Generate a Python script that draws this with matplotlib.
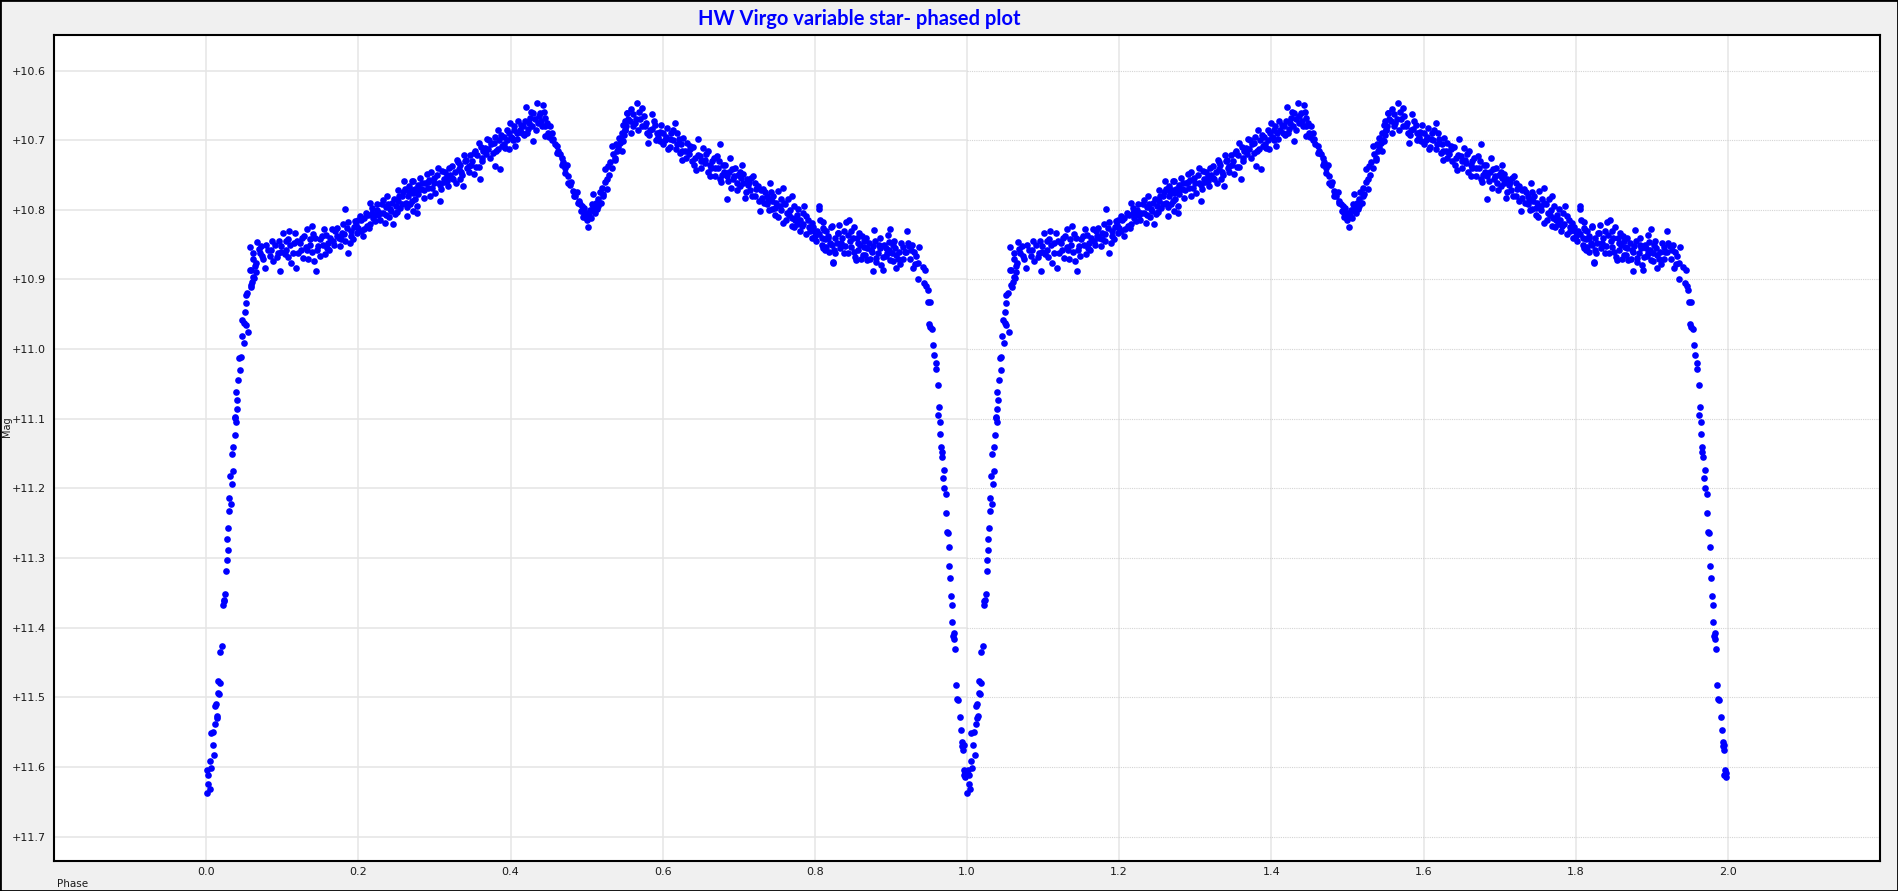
import matplotlib
matplotlib.use('Agg')
import matplotlib.pyplot as plt
import matplotlib.patches as patches
from matplotlib.ticker import FuncFormatter
import numpy as np

# one cycle of the phased light curve (phase, V mag)
# egress out of primary minimum
egress_phase = [0.0005, 0.0022, 0.0045, 0.001, 0.003, 0.006, 0.0049, 0.0101, 0.0084, 0.0058,
                0.0088, 0.0114, 0.0137, 0.0145, 0.012, 0.013, 0.016, 0.017, 0.016, 0.018,
                0.018, 0.021, 0.022, 0.024, 0.025, 0.023, 0.0259, 0.0268, 0.0281, 0.0276,
                0.029, 0.0299, 0.0325, 0.0302, 0.0342, 0.0316, 0.0355, 0.0334, 0.0355, 0.0373,
                0.039, 0.0381, 0.0377, 0.0399, 0.0408, 0.0395, 0.0421, 0.0443, 0.043, 0.0452,
                0.0491, 0.0465, 0.0552, 0.0518, 0.0495, 0.0473, 0.0505, 0.0518, 0.0518, 0.0539,
                0.0584, 0.0605, 0.0627, 0.065, 0.0584, 0.059, 0.0615, 0.057, 0.064, 0.066]
egress_mag = [11.637, 11.624, 11.632, 11.605, 11.611, 11.602, 11.591, 11.583, 11.568, 11.551,
              11.550, 11.538, 11.530, 11.527, 11.513, 11.510, 11.494, 11.495, 11.476, 11.479,
              11.435, 11.426, 11.368, 11.360, 11.352, 11.362, 11.319, 11.303, 11.288, 11.273,
              11.257, 11.233, 11.222, 11.214, 11.194, 11.182, 11.175, 11.150, 11.141, 11.124,
              11.105, 11.099, 11.098, 11.086, 11.073, 11.062, 11.044, 11.030, 11.013, 11.011,
              10.991, 10.981, 10.975, 10.965, 10.963, 10.958, 10.947, 10.934, 10.922, 10.920,
              10.908, 10.903, 10.898, 10.889, 10.886, 10.911, 10.897, 10.887, 10.881, 10.876]

# slowly brightening plateau after egress
plateau_phase = [0.057, 0.0615, 0.0668, 0.0725, 0.079, 0.0703, 0.0747, 0.077, 0.0835, 0.088,
                 0.0967, 0.0945, 0.099, 0.101, 0.109, 0.108, 0.1055, 0.112, 0.1187, 0.1165,
                 0.123, 0.1275, 0.132, 0.1385, 0.136, 0.134, 0.1415, 0.145, 0.147, 0.152,
                 0.156, 0.1604, 0.165, 0.1714, 0.176, 0.180, 0.183, 0.187, 0.189, 0.1956,
                 0.198, 0.202, 0.2066, 0.211, 0.2154, 0.2176, 0.222, 0.226, 0.2308, 0.235,
                 0.2374, 0.2418, 0.246, 0.250, 0.2527, 0.257, 0.260, 0.2637, 0.266, 0.268,
                 0.2725, 0.277, 0.279,
                 0.085, 0.091, 0.096, 0.103, 0.110, 0.114, 0.119, 0.125, 0.129, 0.131,
                 0.139, 0.143, 0.149, 0.154, 0.158, 0.162, 0.167, 0.169, 0.174, 0.178,
                 0.182, 0.185, 0.191, 0.193, 0.197, 0.200, 0.204, 0.208, 0.213, 0.215,
                 0.219, 0.224, 0.228, 0.233, 0.237, 0.240, 0.244, 0.248, 0.252, 0.255,
                 0.259, 0.262, 0.265, 0.270, 0.274, 0.278,
                 0.062, 0.069, 0.073, 0.081, 0.087, 0.093, 0.098, 0.105, 0.107, 0.115,
                 0.121, 0.126, 0.133, 0.137, 0.141, 0.146, 0.150, 0.155, 0.159, 0.163,
                 0.168, 0.172, 0.177, 0.181, 0.186, 0.190, 0.194, 0.199, 0.203, 0.207,
                 0.210, 0.214, 0.218, 0.221, 0.225, 0.229, 0.232, 0.236, 0.239, 0.243,
                 0.247, 0.251, 0.254, 0.258, 0.261, 0.264, 0.267, 0.271, 0.275]
plateau_mag = [10.854, 10.862, 10.846, 10.852, 10.850, 10.862, 10.871, 10.883, 10.866, 10.873,
               10.888, 10.862, 10.852, 10.833, 10.830, 10.842, 10.857, 10.876, 10.883, 10.834,
               10.847, 10.869, 10.827, 10.823, 10.842, 10.871, 10.874, 10.888, 10.852, 10.838,
               10.864, 10.847, 10.828, 10.838, 10.852, 10.821, 10.799, 10.862, 10.847, 10.816,
               10.833, 10.809, 10.838, 10.823, 10.790, 10.804, 10.816, 10.807, 10.792, 10.819,
               10.780, 10.799, 10.821, 10.795, 10.771, 10.780, 10.759, 10.809, 10.766, 10.792,
               10.759, 10.804, 10.771,
               10.858, 10.850, 10.845, 10.864, 10.850, 10.862, 10.845, 10.858, 10.838, 10.853,
               10.860, 10.840, 10.866, 10.850, 10.836, 10.858, 10.845, 10.830, 10.840, 10.834,
               10.845, 10.826, 10.830, 10.842, 10.822, 10.826, 10.815, 10.828, 10.808, 10.820,
               10.812, 10.800, 10.815, 10.805, 10.796, 10.810, 10.790, 10.806, 10.788, 10.797,
               10.775, 10.790, 10.780, 10.772, 10.785, 10.765,
               10.870, 10.856, 10.866, 10.858, 10.845, 10.868, 10.860, 10.845, 10.868, 10.848,
               10.862, 10.840, 10.858, 10.850, 10.835, 10.858, 10.842, 10.828, 10.855, 10.840,
               10.850, 10.826, 10.842, 10.835, 10.818, 10.838, 10.825, 10.815, 10.830, 10.812,
               10.805, 10.826, 10.798, 10.808, 10.792, 10.804, 10.786, 10.808, 10.792, 10.802,
               10.785, 10.803, 10.780, 10.792, 10.770, 10.796, 10.775, 10.788, 10.770]

# first maximum, secondary dip at phase 0.5
hump_phase = [0.2703, 0.2725, 0.2717, 0.277, 0.279, 0.2835, 0.2857, 0.290, 0.2922, 0.2944,
              0.2988, 0.301, 0.3054, 0.3076, 0.3098, 0.312, 0.3163, 0.3185, 0.3229, 0.325,
              0.3295, 0.3317, 0.3339, 0.3382, 0.3404, 0.3448, 0.347, 0.3514, 0.3536, 0.358,
              0.360, 0.3623, 0.3667, 0.3689, 0.3733, 0.3777, 0.380, 0.383, 0.3864, 0.3886,
              0.393, 0.3974, 0.3996, 0.4018, 0.404, 0.406, 0.4105, 0.415, 0.417, 0.4206,
              0.4236, 0.4258, 0.4293, 0.430, 0.4346, 0.4368, 0.439, 0.4425, 0.4455, 0.4477,
              0.4455, 0.452, 0.4543, 0.4565, 0.4609, 0.463, 0.4674, 0.4696, 0.474, 0.4718,
              0.4762, 0.4784, 0.4828, 0.485, 0.4894, 0.4937, 0.496, 0.498, 0.5025, 0.5047,
              0.507, 0.509, 0.511, 0.5135, 0.5156, 0.52, 0.522, 0.5265, 0.524, 0.5287,
              0.531, 0.5332, 0.5375, 0.540, 0.542, 0.544, 0.5485, 0.551, 0.553,
              0.283, 0.288, 0.293, 0.297, 0.303, 0.307, 0.314, 0.317, 0.321, 0.327,
              0.333, 0.336, 0.342, 0.345, 0.350, 0.356, 0.358, 0.364, 0.371, 0.375,
              0.381, 0.385, 0.391, 0.395, 0.398, 0.403, 0.408, 0.412, 0.419, 0.422,
              0.428, 0.432, 0.441, 0.444, 0.449, 0.458, 0.465, 0.472, 0.480, 0.487,
              0.491, 0.495, 0.500, 0.503, 0.506, 0.508, 0.512, 0.517, 0.519, 0.524,
              0.530, 0.535, 0.539, 0.546, 0.550,
              0.281, 0.286, 0.291, 0.295, 0.300, 0.305, 0.309, 0.313, 0.319, 0.323,
              0.328, 0.331, 0.335, 0.339, 0.343, 0.348, 0.352, 0.355, 0.361, 0.363,
              0.368, 0.372, 0.377, 0.379, 0.384, 0.388, 0.392, 0.396, 0.401, 0.405,
              0.409, 0.414, 0.418, 0.424, 0.427, 0.433, 0.437, 0.440, 0.446, 0.451,
              0.455, 0.461, 0.468, 0.476, 0.483, 0.489, 0.493, 0.497, 0.501, 0.510,
              0.515, 0.521, 0.527, 0.533, 0.537, 0.541, 0.545, 0.549, 0.552]
hump_mag = [10.759, 10.776, 10.802, 10.795, 10.778, 10.761, 10.783, 10.749, 10.768, 10.780,
            10.754, 10.776, 10.761, 10.787, 10.744, 10.756, 10.752, 10.766, 10.737, 10.756,
            10.728, 10.742, 10.756, 10.766, 10.730, 10.737, 10.721, 10.749, 10.716, 10.704,
            10.756, 10.730, 10.711, 10.699, 10.725, 10.704, 10.737, 10.685, 10.742, 10.709,
            10.711, 10.713, 10.675, 10.697, 10.685, 10.709, 10.673, 10.689, 10.680, 10.652,
            10.684, 10.668, 10.701, 10.661, 10.647, 10.675, 10.661, 10.650, 10.668, 10.675,
            10.694, 10.680, 10.689, 10.699, 10.709, 10.716, 10.725, 10.732, 10.735, 10.747,
            10.752, 10.764, 10.773, 10.780, 10.787, 10.795, 10.804, 10.811, 10.825, 10.800,
            10.792, 10.778, 10.804, 10.799, 10.785, 10.768, 10.778, 10.756, 10.742, 10.737,
            10.732, 10.709, 10.725, 10.716, 10.697, 10.704, 10.678, 10.685, 10.661,
            10.770, 10.762, 10.757, 10.768, 10.750, 10.765, 10.745, 10.758, 10.750, 10.745,
            10.735, 10.750, 10.728, 10.745, 10.730, 10.722, 10.738, 10.715, 10.712, 10.705,
            10.715, 10.700, 10.695, 10.700, 10.690, 10.700, 10.690, 10.685, 10.672, 10.690,
            10.680, 10.670, 10.680, 10.660, 10.690, 10.705, 10.720, 10.740, 10.760, 10.775,
            10.792, 10.810, 10.815, 10.808, 10.812, 10.795, 10.790, 10.775, 10.790, 10.760,
            10.750, 10.720, 10.705, 10.690, 10.672,
            10.755, 10.772, 10.760, 10.745, 10.762, 10.740, 10.770, 10.760, 10.740, 10.755,
            10.762, 10.732, 10.745, 10.722, 10.740, 10.735, 10.718, 10.738, 10.710, 10.725,
            10.720, 10.700, 10.718, 10.695, 10.712, 10.692, 10.705, 10.685, 10.695, 10.680,
            10.698, 10.678, 10.692, 10.675, 10.660, 10.685, 10.665, 10.672, 10.680, 10.695,
            10.700, 10.718, 10.735, 10.762, 10.780, 10.790, 10.802, 10.798, 10.805, 10.802,
            10.795, 10.780, 10.770, 10.740, 10.728, 10.710, 10.700, 10.692, 10.680]

# second maximum and long decline
decline_phase = [0.546, 0.5483, 0.5505, 0.553, 0.557, 0.5615, 0.566, 0.568, 0.5724, 0.570,
                 0.5768, 0.581, 0.5834, 0.5855, 0.590, 0.592, 0.5965, 0.601, 0.6053, 0.6075,
                 0.6096, 0.614, 0.616, 0.6184, 0.6228, 0.625, 0.627, 0.6315, 0.636, 0.638,
                 0.6438, 0.6468, 0.649, 0.6534, 0.6556, 0.660, 0.6622, 0.6644, 0.6688, 0.671,
                 0.6753, 0.6753, 0.6797, 0.684, 0.684, 0.6885, 0.6907, 0.693, 0.6972, 0.7016,
                 0.7038, 0.706, 0.708, 0.7104, 0.7148, 0.719, 0.7213, 0.7257, 0.728, 0.730,
                 0.7345, 0.7367, 0.741, 0.7432, 0.7454, 0.7476, 0.752, 0.754, 0.7585, 0.7585,
                 0.763, 0.765, 0.7695, 0.7695, 0.774, 0.778, 0.7826, 0.786, 0.789, 0.793,
                 0.7958, 0.800, 0.8054, 0.8067, 0.811, 0.8133, 0.8177, 0.822, 0.8243, 0.8286,
                 0.831,
                 0.559, 0.563, 0.575, 0.579, 0.588, 0.594, 0.598, 0.603, 0.611, 0.619,
                 0.624, 0.629, 0.634, 0.640, 0.643, 0.651, 0.657, 0.662, 0.667, 0.673,
                 0.678, 0.682, 0.687, 0.695, 0.699, 0.703, 0.712, 0.716, 0.723, 0.732,
                 0.739, 0.742, 0.749, 0.756, 0.761, 0.767, 0.772, 0.776, 0.780, 0.784,
                 0.791, 0.798, 0.803, 0.809, 0.815, 0.820, 0.826,
                 0.555, 0.558, 0.561, 0.565, 0.569, 0.573, 0.578, 0.582, 0.586, 0.591,
                 0.596, 0.600, 0.605, 0.609, 0.613, 0.617, 0.621, 0.626, 0.631, 0.636,
                 0.641, 0.646, 0.650, 0.655, 0.659, 0.664, 0.669, 0.674, 0.677, 0.681,
                 0.686, 0.690, 0.694, 0.698, 0.702, 0.706, 0.710, 0.714, 0.718, 0.722,
                 0.726, 0.729, 0.733, 0.737, 0.740, 0.744, 0.748, 0.751, 0.755, 0.759,
                 0.762, 0.766, 0.770, 0.773, 0.777, 0.781, 0.785, 0.788, 0.792, 0.796,
                 0.799, 0.802, 0.806, 0.810, 0.814, 0.818, 0.822, 0.827, 0.833]
decline_mag = [10.716, 10.701, 10.685, 10.661, 10.673, 10.663, 10.647, 10.685, 10.654, 10.670,
               10.680, 10.704, 10.685, 10.663, 10.678, 10.689, 10.701, 10.689, 10.682, 10.713,
               10.699, 10.685, 10.675, 10.706, 10.718, 10.728, 10.697, 10.704, 10.709, 10.730,
               10.743, 10.699, 10.723, 10.711, 10.733, 10.716, 10.752, 10.730, 10.740, 10.723,
               10.706, 10.756, 10.735, 10.784, 10.752, 10.725, 10.742, 10.756, 10.761, 10.766,
               10.735, 10.749, 10.783, 10.756, 10.771, 10.752, 10.780, 10.766, 10.802, 10.783,
               10.775, 10.792, 10.761, 10.799, 10.780, 10.807, 10.773, 10.795, 10.768, 10.819,
               10.804, 10.785, 10.780, 10.823, 10.814, 10.799, 10.823, 10.794, 10.809, 10.830,
               10.819, 10.838, 10.794, 10.814, 10.826, 10.857, 10.838, 10.823, 10.875, 10.848,
               10.833,
               10.655, 10.675, 10.665, 10.690, 10.672, 10.695, 10.678, 10.700, 10.690, 10.690,
               10.705, 10.715, 10.720, 10.710, 10.725, 10.730, 10.720, 10.735, 10.725, 10.740,
               10.750, 10.735, 10.745, 10.740, 10.750, 10.755, 10.765, 10.755, 10.770, 10.770,
               10.785, 10.775, 10.790, 10.785, 10.792, 10.800, 10.795, 10.808, 10.815, 10.805,
               10.815, 10.825, 10.830, 10.840, 10.830, 10.848, 10.840,
               10.670, 10.690, 10.680, 10.670, 10.660, 10.680, 10.675, 10.692, 10.684, 10.700,
               10.688, 10.705, 10.695, 10.710, 10.700, 10.712, 10.698, 10.715, 10.725, 10.712,
               10.735, 10.722, 10.740, 10.728, 10.745, 10.740, 10.752, 10.730, 10.760, 10.745,
               10.758, 10.768, 10.752, 10.772, 10.745, 10.762, 10.775, 10.760, 10.780, 10.762,
               10.788, 10.772, 10.790, 10.780, 10.800, 10.788, 10.798, 10.810, 10.800, 10.790,
               10.815, 10.808, 10.812, 10.825, 10.820, 10.830, 10.820, 10.835, 10.825, 10.840,
               10.830, 10.845, 10.835, 10.850, 10.842, 10.860, 10.850, 10.862, 10.855]

# flat shoulder before ingress
shoulder_phase = [0.806, 0.8103, 0.8125, 0.8103, 0.817, 0.8147, 0.8235, 0.8213, 0.8257, 0.830,
                  0.832, 0.8344, 0.8388, 0.841, 0.843, 0.8453, 0.8475, 0.8497, 0.852, 0.854,
                  0.8563, 0.8585, 0.863, 0.865, 0.867, 0.869, 0.8737, 0.876, 0.878, 0.880,
                  0.8847, 0.887, 0.889, 0.8936, 0.8957, 0.898, 0.899, 0.9023, 0.9045, 0.9067,
                  0.911, 0.9155, 0.9207, 0.922, 0.9264, 0.9286, 0.933, 0.9374, 0.9352,
                  0.836, 0.840, 0.846, 0.851, 0.855, 0.860, 0.862, 0.866, 0.871, 0.875,
                  0.879, 0.883, 0.886, 0.891, 0.895, 0.897, 0.901, 0.906, 0.909, 0.913,
                  0.918, 0.924, 0.930,
                  0.838, 0.844, 0.848, 0.853, 0.857, 0.861, 0.864, 0.868, 0.873, 0.877,
                  0.881, 0.885, 0.890, 0.893, 0.899, 0.903, 0.907, 0.912, 0.916, 0.920,
                  0.925, 0.928, 0.932]
shoulder_mag = [10.799, 10.817, 10.829, 10.855, 10.841, 10.853, 10.876, 10.824, 10.857, 10.833,
                10.822, 10.848, 10.862, 10.817, 10.836, 10.814, 10.853, 10.841, 10.824, 10.872,
                10.848, 10.834, 10.865, 10.853, 10.841, 10.872, 10.857, 10.888, 10.829, 10.869,
                10.850, 10.879, 10.886, 10.867, 10.836, 10.857, 10.828, 10.874, 10.845, 10.884,
                10.860, 10.853, 10.831, 10.848, 10.857, 10.884, 10.867, 10.853, 10.876,
                10.840, 10.852, 10.845, 10.860, 10.840, 10.850, 10.838, 10.865, 10.848, 10.860,
                10.845, 10.862, 10.855, 10.850, 10.862, 10.846, 10.862, 10.855, 10.870, 10.848,
                10.860, 10.852, 10.860,
                10.830, 10.862, 10.830, 10.868, 10.858, 10.870, 10.845, 10.855, 10.870, 10.852,
                10.875, 10.840, 10.868, 10.855, 10.872, 10.850, 10.865, 10.878, 10.870, 10.860,
                10.870, 10.850, 10.878]

# ingress into primary minimum
ingress_phase = [0.936, 0.9417, 0.9452, 0.944, 0.9462, 0.9483, 0.9489, 0.952, 0.950, 0.952,
                 0.954, 0.9554, 0.9563, 0.9589, 0.9598, 0.9619, 0.963, 0.9625, 0.9642, 0.9651,
                 0.966, 0.9665, 0.967, 0.9698, 0.969, 0.9703, 0.972, 0.973, 0.9738, 0.9747,
                 0.9764, 0.9764, 0.9782, 0.9795, 0.9803, 0.9809, 0.9826, 0.9828, 0.9822, 0.9848,
                 0.9861, 0.9874, 0.9887, 0.9909, 0.9927, 0.994, 0.9935, 0.9955, 0.995, 0.9965,
                 0.998, 0.9955, 0.9975]
ingress_mag = [10.900, 10.882, 10.886, 10.905, 10.910, 10.915, 10.932, 10.933, 10.964, 10.968,
               10.971, 10.994, 11.009, 11.020, 11.029, 11.051, 11.083, 11.094, 11.105, 11.122,
               11.140, 11.148, 11.155, 11.174, 11.185, 11.200, 11.208, 11.236, 11.263, 11.264,
               11.284, 11.311, 11.329, 11.355, 11.367, 11.392, 11.408, 11.416, 11.412, 11.431,
               11.483, 11.502, 11.504, 11.528, 11.547, 11.564, 11.570, 11.568, 11.576, 11.605,
               11.608, 11.611, 11.614]

x_ticks = [0.0, 0.2, 0.4, 0.6, 0.8, 1.0, 1.2, 1.4, 1.6, 1.8, 2.0]
y_ticks = [10.6, 10.7, 10.8, 10.9, 11.0, 11.1, 11.2, 11.3, 11.4, 11.5, 11.6, 11.7]

phase = np.concatenate([egress_phase, plateau_phase, hump_phase, decline_phase,
                        shoulder_phase, ingress_phase])
mag = np.concatenate([egress_mag, plateau_mag, hump_mag, decline_mag,
                      shoulder_mag, ingress_mag])
# the chart shows two cycles
phase2 = np.concatenate([phase, phase + 1])
mag2 = np.concatenate([mag, mag])

fig = plt.figure(figsize=(18.98, 8.91), dpi=100, facecolor='#F0F0F0')
ax = fig.add_axes([54 / 1898, 1 - 861 / 891, 1826 / 1898, 826 / 891])
ax.set_facecolor('white')
ax.set_xlim(-0.2, 2.2)
ax.set_ylim(11.735, 10.549)

# grid: solid on first cycle, dotted on the second
for x in x_ticks:
    ax.axvline(x, color='#E6E6E6', lw=1.1, zorder=0)
for y in y_ticks:
    ax.axhline(y, xmin=0, xmax=0.5, color='#E6E6E6', lw=1.2, zorder=0)
    ax.axhline(y, xmin=0.5, xmax=1, color='#D4D4D4', lw=0.8, ls=(0, (1, 1)), zorder=0)

ax.plot(phase2, mag2, 'o', color='#0000FF', ms=4.8, mec='none', zorder=3)

ax.set_xticks(x_ticks)
ax.set_yticks(y_ticks)
ax.xaxis.set_major_formatter(FuncFormatter(lambda v, p: f"{v:.1f}"))
ax.yaxis.set_major_formatter(FuncFormatter(lambda v, p: f"+{v:.1f}"))
ax.tick_params(axis='both', length=0, labelsize=8, colors='#1a1a1a')
ax.tick_params(axis='x', pad=4)
ax.tick_params(axis='y', pad=6)
for s in ax.spines.values():
    s.set_linewidth(1.5)
    s.set_color('black')

fig.text(859 / 1898, 1 - 19 / 891, "HW Virgo variable star- phased plot",
         ha='center', va='center', color='#0000FF', fontweight='bold', fontsize=14.5,
         family=['Lato', 'DejaVu Sans'])
fig.text(7 / 1898, 1 - 427 / 891, "Mag", rotation=90, ha='center', va='center',
         fontsize=7, color='#1a1a1a')
fig.text(57 / 1898, 1 - 884 / 891, "Phase", ha='left', va='center',
         fontsize=7.5, color='#1a1a1a')

fig.add_artist(patches.Rectangle((0, 0), 1, 1, transform=fig.transFigure, fill=False,
                                 edgecolor='black', lw=2))

fig.savefig('out.png', dpi=100, facecolor=fig.get_facecolor())
